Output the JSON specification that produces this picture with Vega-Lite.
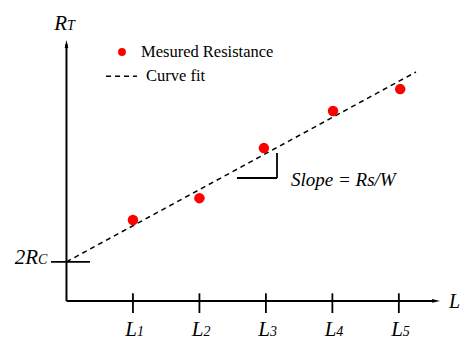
{
  "$schema": "https://vega.github.io/schema/vega-lite/v6.json",
  "width": 462,
  "height": 340,
  "autosize": {"type": "none"},
  "padding": 0,
  "background": "white",
  "config": {"view": {"stroke": null}},
  "datasets": {
    "axes": [
      {"x": 0, "y": 0, "x2": 0, "y2": 6.574},
      {"x": 0, "y": 0, "x2": 5.56, "y2": 0}
    ],
    "arrowUp": [{"x": 0, "y": 6.574}],
    "arrowRight": [{"x": 5.559, "y": 0}],
    "ticks": [
      {"x": 1, "y": 0.195, "x2": 1, "y2": -0.31},
      {"x": 2, "y": 0.195, "x2": 2, "y2": -0.31},
      {"x": 3, "y": 0.195, "x2": 3, "y2": -0.31},
      {"x": 4, "y": 0.195, "x2": 4, "y2": -0.31},
      {"x": 5, "y": 0.195, "x2": 5, "y2": -0.31},
      {"x": -0.233, "y": 1, "x2": 0.354, "y2": 1},
      {"x": 3.167, "y": 3.786, "x2": 3.167, "y2": 3.145},
      {"x": 2.565, "y": 3.145, "x2": 3.167, "y2": 3.145}
    ],
    "fit": [
      {"x": 0, "y": 1},
      {"x": 5.257, "y": 5.857}
    ],
    "legendLine": [
      {"x": 0.595, "y": 5.75},
      {"x": 1.061, "y": 5.75}
    ],
    "measured": [
      {"L": 1, "R": 2.07},
      {"L": 2, "R": 2.63},
      {"L": 2.97, "R": 3.91},
      {"L": 4.01, "R": 4.86},
      {"L": 5.02, "R": 5.42}
    ],
    "legendDot": [{"x": 0.835, "y": 6.37}],
    "mainLabels": [
      {"x": 0.008, "y": 6.92, "t": "R"},
      {"x": -0.428, "y": 0.94, "t": "2R"},
      {"x": 1.06, "y": -0.9, "t": "L"},
      {"x": 2.06, "y": -0.9, "t": "L"},
      {"x": 3.06, "y": -0.9, "t": "L"},
      {"x": 4.06, "y": -0.9, "t": "L"},
      {"x": 5.06, "y": -0.9, "t": "L"}
    ],
    "subLabels": [
      {"x": 0.008, "y": 6.92, "t": "T"},
      {"x": -0.428, "y": 0.94, "t": "C"},
      {"x": 1.06, "y": -0.9, "t": "1"},
      {"x": 2.06, "y": -0.9, "t": "2"},
      {"x": 3.06, "y": -0.9, "t": "3"},
      {"x": 4.06, "y": -0.9, "t": "4"},
      {"x": 5.06, "y": -0.9, "t": "5"}
    ],
    "italicLeft": [
      {"x": 5.755, "y": -0.18, "t": "L", "s": 20},
      {"x": 3.378, "y": 2.94, "t": "Slope = Rs/W", "s": 19}
    ],
    "legendText": [
      {"x": 1.121, "y": 6.24, "t": "Mesured Resistance"},
      {"x": 1.196, "y": 5.63, "t": "Curve fit"}
    ]
  },
  "encoding": {
    "x": {"type": "quantitative", "scale": {"domain": [-1, 5.95], "nice": false, "zero": false}, "axis": null},
    "y": {"type": "quantitative", "scale": {"domain": [-1, 7.7], "nice": false, "zero": false}, "axis": null}
  },
  "layer": [
    {
      "data": {"name": "axes"},
      "mark": {"type": "rule", "color": "black", "strokeWidth": 2},
      "encoding": {"x": {"field": "x", "type": "quantitative"}, "y": {"field": "y", "type": "quantitative"}, "x2": {"field": "x2"}, "y2": {"field": "y2"}}
    },
    {
      "data": {"name": "ticks"},
      "mark": {"type": "rule", "color": "black", "strokeWidth": 1.8},
      "encoding": {"x": {"field": "x", "type": "quantitative"}, "y": {"field": "y", "type": "quantitative"}, "x2": {"field": "x2"}, "y2": {"field": "y2"}}
    },
    {
      "data": {"name": "arrowUp"},
      "mark": {"type": "point", "shape": "M0,-1L0.45,1L-0.45,1Z", "filled": true, "color": "black", "opacity": 1, "size": 64},
      "encoding": {"x": {"field": "x", "type": "quantitative"}, "y": {"field": "y", "type": "quantitative"}}
    },
    {
      "data": {"name": "arrowRight"},
      "mark": {"type": "point", "shape": "M1,0L-1,0.45L-1,-0.45Z", "filled": true, "color": "black", "opacity": 1, "size": 64},
      "encoding": {"x": {"field": "x", "type": "quantitative"}, "y": {"field": "y", "type": "quantitative"}}
    },
    {
      "data": {"name": "fit"},
      "mark": {"type": "line", "color": "black", "strokeWidth": 1.5, "strokeDash": [5, 4]},
      "encoding": {"x": {"field": "x", "type": "quantitative"}, "y": {"field": "y", "type": "quantitative"}}
    },
    {
      "data": {"name": "legendLine"},
      "mark": {"type": "line", "color": "black", "strokeWidth": 1.5, "strokeDash": [5, 4]},
      "encoding": {"x": {"field": "x", "type": "quantitative"}, "y": {"field": "y", "type": "quantitative"}}
    },
    {
      "data": {"name": "measured"},
      "mark": {"type": "circle", "color": "#ff0000", "opacity": 1, "size": 110},
      "encoding": {"x": {"field": "L", "type": "quantitative"}, "y": {"field": "R", "type": "quantitative"}}
    },
    {
      "data": {"name": "legendDot"},
      "mark": {"type": "circle", "color": "#ff0000", "opacity": 1, "size": 62},
      "encoding": {"x": {"field": "x", "type": "quantitative"}, "y": {"field": "y", "type": "quantitative"}}
    },
    {
      "data": {"name": "mainLabels"},
      "mark": {"type": "text", "font": "Liberation Serif", "fontStyle": "italic", "fontSize": 21, "align": "right", "baseline": "alphabetic", "color": "black"},
      "encoding": {"x": {"field": "x", "type": "quantitative"}, "y": {"field": "y", "type": "quantitative"}, "text": {"field": "t"}}
    },
    {
      "data": {"name": "subLabels"},
      "mark": {"type": "text", "font": "Liberation Serif", "fontStyle": "italic", "fontSize": 14, "align": "left", "baseline": "alphabetic", "color": "black"},
      "encoding": {"x": {"field": "x", "type": "quantitative"}, "y": {"field": "y", "type": "quantitative"}, "text": {"field": "t"}}
    },
    {
      "data": {"name": "italicLeft"},
      "mark": {"type": "text", "font": "Liberation Serif", "fontStyle": "italic", "align": "left", "baseline": "alphabetic", "color": "black"},
      "encoding": {"x": {"field": "x", "type": "quantitative"}, "y": {"field": "y", "type": "quantitative"}, "text": {"field": "t"}, "size": {"field": "s", "type": "quantitative", "scale": null}}
    },
    {
      "data": {"name": "legendText"},
      "mark": {"type": "text", "font": "Liberation Serif", "fontSize": 16.5, "align": "left", "baseline": "alphabetic", "color": "black"},
      "encoding": {"x": {"field": "x", "type": "quantitative"}, "y": {"field": "y", "type": "quantitative"}, "text": {"field": "t"}}
    }
  ]
}
